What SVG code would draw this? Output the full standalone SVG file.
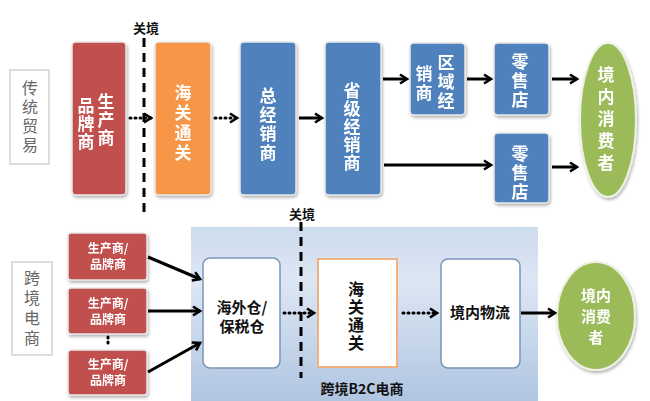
<svg xmlns="http://www.w3.org/2000/svg" width="650" height="401" viewBox="0 0 650 401">
<style>
.lbl{fill:#fff;stroke:#c8c8c8;stroke-width:1.2}
.lt{font-family:"Noto Sans CJK SC","Liberation Sans",sans-serif;font-size:16px;fill:#666;text-anchor:middle}
.wt{font-family:"Noto Sans CJK SC","Liberation Sans",sans-serif;font-weight:bold;fill:#fff;text-anchor:middle}
.bt{font-family:"Noto Sans CJK SC","Liberation Sans",sans-serif;font-weight:bold;fill:#111;text-anchor:middle}
.v{writing-mode:vertical-rl}
.red{fill:#c0504d;stroke:#e8e8e8;stroke-width:1.5}
.org{fill:#f79646;stroke:#e8e8e8;stroke-width:1.5}
.blu{fill:#4f81bd;stroke:#e8e8e8;stroke-width:1.5}
.grn{fill:#9bbb59;stroke:#eef2e4;stroke-width:2}
.wbox{fill:#fff;stroke:#7a95b8;stroke-width:1.5}
.obox{fill:#fff;stroke:#f0b080;stroke-width:2}
.sol{stroke:#000;stroke-width:3;fill:none}
.dot{stroke:#000;stroke-width:3;fill:none;stroke-dasharray:1 4;stroke-linecap:round}
.dash{stroke:#000;stroke-width:3;fill:none;stroke-dasharray:9 6}
</style>
<defs>
<filter id="sh" x="-20%" y="-20%" width="140%" height="140%">
<feDropShadow dx="1" dy="2" stdDeviation="1.5" flood-color="#000" flood-opacity="0.3"/>
</filter>
<linearGradient id="pg" x1="0" y1="0" x2="0" y2="1">
<stop offset="0" stop-color="#cddbee"/>
<stop offset="0.3" stop-color="#dde7f4"/>
<stop offset="1" stop-color="#b0c5e1"/>
</linearGradient>
<marker id="ah" markerWidth="12" markerHeight="12" refX="9" refY="6" orient="auto" markerUnits="userSpaceOnUse">
<path d="M2,1.5 L9,6 L2,10.5" fill="none" stroke="#000" stroke-width="2.6"/>
</marker>
</defs>
<rect width="650" height="401" fill="#fff"/>

<!-- row labels -->
<g id="label-traditional">
<rect class="lbl" x="10" y="70" width="39" height="94"/>
<text class="lt v" x="30" y="118" letter-spacing="3">传统贸易</text>
</g>
<g id="label-crossborder">
<rect class="lbl" x="12" y="262" width="40" height="93"/>
<text class="lt v" x="32" y="310" letter-spacing="4">跨境电商</text>
</g>

<!-- bottom panel -->
<g id="b2c-panel">
<rect x="191" y="227" width="347" height="174" fill="url(#pg)"/>
<text class="bt" x="362" y="394" font-size="14" fill="#222">跨境B2C电商</text>
</g>

<!-- top row nodes -->
<g id="maker" filter="url(#sh)">
<rect class="red" x="72" y="42" width="54" height="153" rx="4"/>
<text class="wt v" x="106" y="120" font-size="17" letter-spacing="1">生产商</text>
<text class="wt v" x="86" y="124" font-size="17" letter-spacing="1">品牌商</text>
</g>
<g id="customs-top" filter="url(#sh)">
<rect class="org" x="155" y="42" width="56" height="153" rx="4"/>
<text class="wt v" x="183" y="124" font-size="17" letter-spacing="3">海关通关</text>
</g>
<g id="general-dist" filter="url(#sh)">
<rect class="blu" x="240" y="42" width="56" height="153" rx="4"/>
<text class="wt v" x="268" y="125" font-size="17" letter-spacing="2">总经销商</text>
</g>
<g id="province-dist" filter="url(#sh)">
<rect class="blu" x="325" y="42" width="56" height="153" rx="4"/>
<text class="wt v" x="352" y="127" font-size="17" letter-spacing="1">省级经销商</text>
</g>
<g id="region-dist" filter="url(#sh)">
<rect class="blu" x="410" y="43" width="55" height="72" rx="4"/>
<text class="wt v" x="446" y="83" font-size="17" letter-spacing="2">区域经</text>
<text class="wt v" x="424" y="84" font-size="17" letter-spacing="2">销商</text>
</g>
<g id="retail-1" filter="url(#sh)">
<rect class="blu" x="494" y="43" width="55" height="72" rx="4"/>
<text class="wt v" x="520" y="82" font-size="17" letter-spacing="2">零售店</text>
</g>
<g id="retail-2" filter="url(#sh)">
<rect class="blu" x="494" y="133" width="55" height="70" rx="4"/>
<text class="wt v" x="520" y="174" font-size="17" letter-spacing="2">零售店</text>
</g>
<g id="consumer-top" filter="url(#sh)">
<ellipse class="grn" cx="608" cy="120" rx="28" ry="77"/>
<text class="wt v" x="606" y="121" font-size="17" letter-spacing="5">境内消费者</text>
</g>

<!-- bottom row nodes -->
<g id="maker-1" filter="url(#sh)">
<rect class="red" x="68" y="233" width="79" height="47" rx="3"/>
<text class="wt" x="108" y="253" font-size="12">生产商/</text>
<text class="wt" x="108" y="269" font-size="12">品牌商</text>
</g>
<g id="maker-2" filter="url(#sh)">
<rect class="red" x="68" y="288" width="79" height="46" rx="3"/>
<text class="wt" x="108" y="308" font-size="12">生产商/</text>
<text class="wt" x="108" y="324" font-size="12">品牌商</text>
</g>
<g id="maker-3" filter="url(#sh)">
<rect class="red" x="68" y="350" width="79" height="45" rx="3"/>
<text class="wt" x="108" y="369" font-size="12">生产商/</text>
<text class="wt" x="108" y="385" font-size="12">品牌商</text>
</g>
<g id="warehouse">
<rect class="wbox" x="203" y="258" width="77" height="110" rx="7"/>
<text class="bt" x="242" y="313" font-size="15">海外仓/</text>
<text class="bt" x="242" y="332" font-size="15">保税仓</text>
</g>
<g id="customs-bottom">
<rect class="obox" x="318" y="259" width="79" height="108"/>
<text class="bt v" x="356" y="317" font-size="16" letter-spacing="2">海关通关</text>
</g>
<g id="logistics">
<rect class="wbox" x="441" y="259" width="79" height="109" rx="7"/>
<text class="bt" x="480" y="318" font-size="15">境内物流</text>
</g>
<g id="consumer-bottom" filter="url(#sh)">
<ellipse class="grn" cx="596" cy="316" rx="39" ry="54"/>
<text class="wt" x="596" y="301" font-size="15">境内</text>
<text class="wt" x="596" y="322" font-size="15">消费</text>
<text class="wt" x="596" y="343" font-size="15">者</text>
</g>

<!-- connectors -->
<g id="connectors">
<line class="dash" x1="144" y1="38" x2="144" y2="212"/>
<text class="bt" x="146" y="33" font-size="13" fill="#222">关境</text>
<line class="dash" x1="301" y1="222" x2="301" y2="378"/>
<text class="bt" x="302" y="219" font-size="13" fill="#222">关境</text>
<line class="dot" x1="108" y1="337" x2="108" y2="347" stroke-width="1.5" stroke="#888"/>

<line class="dot" x1="130" y1="118" x2="151" y2="118" marker-end="url(#ah)"/>
<line class="dot" x1="215" y1="118" x2="237" y2="118" marker-end="url(#ah)"/>
<line class="sol" x1="299" y1="118" x2="322" y2="118" marker-end="url(#ah)"/>
<line class="sol" x1="383" y1="79" x2="407" y2="79" marker-end="url(#ah)"/>
<line class="sol" x1="467" y1="79" x2="491" y2="79" marker-end="url(#ah)"/>
<line class="sol" x1="552" y1="79" x2="577" y2="79" marker-end="url(#ah)"/>
<line class="sol" x1="384" y1="165" x2="491" y2="165" marker-end="url(#ah)"/>
<line class="sol" x1="552" y1="167" x2="577" y2="167" marker-end="url(#ah)"/>

<line class="sol" x1="148" y1="257" x2="200" y2="279" marker-end="url(#ah)"/>
<line class="sol" x1="148" y1="311" x2="200" y2="311" marker-end="url(#ah)"/>
<line class="sol" x1="148" y1="372" x2="200" y2="343" marker-end="url(#ah)"/>
<line class="dot" x1="284" y1="313" x2="314" y2="313" marker-end="url(#ah)"/>
<line class="dot" x1="403" y1="313" x2="437" y2="313" marker-end="url(#ah)"/>
<line class="sol" x1="521" y1="313" x2="555" y2="313" marker-end="url(#ah)"/>
</g>
</svg>
